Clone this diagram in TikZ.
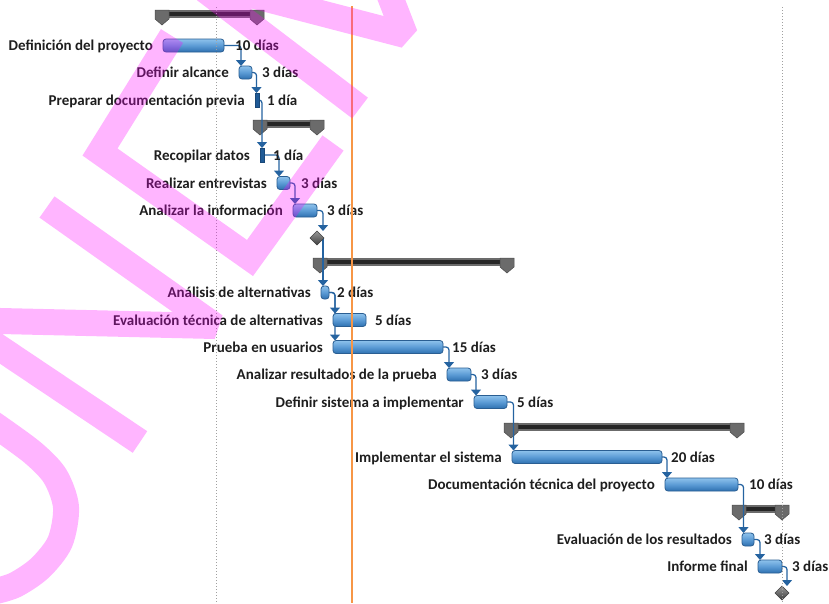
\documentclass[tikz,border=0pt]{standalone}
\usepackage{fontspec}
\setmainfont{Carlito}
\usetikzlibrary{arrows.meta,positioning,shapes.geometric}

\definecolor{barTop}{HTML}{8EC2EC}
\definecolor{barMid}{HTML}{5B9BD5}
\definecolor{barBot}{HTML}{2E70B0}
\definecolor{barEdge}{HTML}{2A5E92}
\definecolor{linkBlue}{HTML}{2563A0}
\definecolor{oneDay}{HTML}{1F5A96}
\definecolor{todayOrange}{HTML}{F79646}
\definecolor{gridGray}{HTML}{A0A0A0}
\definecolor{sumDark}{HTML}{262626}
\definecolor{sumGray}{HTML}{6B6B6B}
\definecolor{stampPink}{HTML}{FF00FF}
\definecolor{labelInk}{HTML}{1E1E1E}

\pgfdeclarelayer{links}
\pgfdeclarelayer{marks}
\pgfsetlayers{links,main,marks}

\tikzset{
  taskbar/.style={draw=barEdge, line width=0.8pt, rounded corners=3pt,
    top color=barTop, bottom color=barBot, middle color=barMid,
    minimum height=13pt, inner sep=0pt, outer sep=0pt},
  shortbar/.style={fill=oneDay, draw=oneDay!80!black, line width=0.4pt,
    minimum width=4pt, minimum height=14pt, inner sep=0pt, outer sep=0pt},
  milestone/.style={diamond, draw=black!75, line width=0.6pt,
    top color=black!40, bottom color=black!75,
    minimum size=14pt, inner sep=0pt, outer sep=0pt},
  lbl/.style={font=\fontsize{15}{17}\selectfont\bfseries, text=labelInk,
    inner sep=0pt, text height=12pt, text depth=2pt},
  link/.style={draw=linkBlue, line width=1.25pt, rounded corners=3pt,
    -{Triangle[width=10pt,length=6pt]}},
  gridline/.style={draw=gridGray, line width=1pt, dash pattern=on 1pt off 2pt},
  stamp/.style={draw=stampPink, draw opacity=0.29, line width=26pt,
    line join=miter, miter limit=2},
}

% summary bar: caps centred at #1 and #2, top edge at #3
\newcommand{\ganttsum}[3]{%
  \fill[sumGray] (#1-7,#3) rectangle (#2+7,#3+8);
  \fill[sumDark] (#1,#3+2) rectangle (#2,#3+6);
  \foreach \c in {#1,#2}{
    \filldraw[fill=sumGray, draw=black!70, line width=0.5pt]
      (\c-7,#3) -- (\c+7,#3) -- (\c+7,#3+9) -- (\c,#3+15) -- (\c-7,#3+9) -- cycle;
  }%
}

\begin{document}
\begin{tikzpicture}[x=1pt,y=-1pt]
\useasboundingbox (0,0) rectangle (829,603);

% task bars and milestones
\node[taskbar, minimum width=61pt]  (t1)  at (193.5,45.5) {};
\node[taskbar, minimum width=13pt]  (t2)  at (245.5,72.5) {};
\node[shortbar]                     (t3)  at (257,100) {};
\node[shortbar]                     (t5)  at (262,155) {};
\node[taskbar, minimum width=13pt]  (t6)  at (283.5,183) {};
\node[taskbar, minimum width=24pt]  (t7)  at (305,210.5) {};
\node[milestone]                    (m8)  at (317,238) {};
\node[taskbar, minimum width=8pt]   (t10) at (325,292.5) {};
\node[taskbar, minimum width=33pt]  (t11) at (349.5,320) {};
\node[taskbar, minimum width=110pt] (t12) at (388,347) {};
\node[taskbar, minimum width=24pt]  (t13) at (459,374.5) {};
\node[taskbar, minimum width=33pt]  (t14) at (490.5,402) {};
\node[taskbar, minimum width=150pt] (t16) at (587,457) {};
\node[taskbar, minimum width=73pt]  (t17) at (701.5,484.5) {};
\node[taskbar, minimum width=12pt]  (t19) at (748,539.5) {};
\node[taskbar, minimum width=24pt]  (t20) at (770,566.5) {};
\node[milestone]                    (m21) at (782,593) {};

\begin{pgfonlayer}{links}
\fill[white] (0,0) rectangle (829,603);
% summary tasks
\ganttsum{162}{257}{10}
\ganttsum{260}{317}{120}
\ganttsum{320}{507}{258}
\ganttsum{511}{737}{423}
\ganttsum{739}{782}{505}
% dependency links
\draw[link] (t1.east) -| ([xshift=2pt]t2.north west);
\draw[link] (t2.east) -| ([xshift=1.5pt]t3.north west);
\draw[link] (t3.east) -| ([xshift=2pt]t5.north west);
\draw[link] (t5.east) -| ([xshift=2pt]t6.north west);
\draw[link] (t6.east) -| ([xshift=2pt]t7.north west);
\draw[link] (t7.east) -| ([xshift=6pt]m8.north);
\draw[link] ([xshift=6pt]m8.center) -- ([xshift=6pt]m8.center |- t10.north);
\draw[link] (t10.east) -| ([xshift=2pt]t11.north west);
\draw[link] (t10.east) -| ([xshift=2pt]t12.north west);
\draw[link] (t12.east) -| ([xshift=2pt]t13.north west);
\draw[link] (t13.east) -| ([xshift=2pt]t14.north west);
\draw[link] (t14.east) -| ([xshift=1.5pt]t16.north west);
\draw[link] (t16.east) -| ([xshift=2pt]t17.north west);
\draw[link] (t17.east) -| ([xshift=1.5pt]t19.north west);
\draw[link] (t19.east) -| ([xshift=2pt]t20.north west);
\draw[link] (t20.east) -| ([xshift=5pt]m21.north);
\end{pgfonlayer}

% task names
\node[lbl, anchor=east] (n1)  at ([xshift=-10pt]t1.west)  {Definición del proyecto};
\node[lbl, anchor=east] (n2)  at ([xshift=-10pt]t2.west)  {Definir alcance};
\node[lbl, anchor=east] (n3)  at ([xshift=-10pt]t3.west)  {Preparar documentación previa};
\node[lbl, anchor=east] (n5)  at ([xshift=-10pt]t5.west)  {Recopilar datos};
\node[lbl, anchor=east] (n6)  at ([xshift=-10pt]t6.west)  {Realizar entrevistas};
\node[lbl, anchor=east] (n7)  at ([xshift=-10pt]t7.west)  {Analizar la información};
\node[lbl, anchor=east] (n10) at ([xshift=-10pt]t10.west) {Análisis de alternativas};
\node[lbl, anchor=east] (n11) at ([xshift=-10pt]t11.west) {Evaluación técnica de alternativas};
\node[lbl, anchor=east] (n12) at ([xshift=-10pt]t12.west) {Prueba en usuarios};
\node[lbl, anchor=east] (n13) at ([xshift=-10pt]t13.west) {Analizar resultados de la prueba};
\node[lbl, anchor=east] (n14) at ([xshift=-10pt]t14.west) {Definir sistema a implementar};
\node[lbl, anchor=east] (n16) at ([xshift=-10pt]t16.west) {Implementar el sistema};
\node[lbl, anchor=east] (n17) at ([xshift=-10pt]t17.west) {Documentación técnica del proyecto};
\node[lbl, anchor=east] (n19) at ([xshift=-10pt]t19.west) {Evaluación de los resultados};
\node[lbl, anchor=east] (n20) at ([xshift=-10pt]t20.west) {Informe final};

% durations
\node[lbl, anchor=west] (d1)  at ([xshift=11pt]t1.east)  {10 días};
\node[lbl, anchor=west] (d2)  at ([xshift=10pt]t2.east)  {3 días};
\node[lbl, anchor=west] (d3)  at ([xshift=8pt]t3.east)   {1 día};
\node[lbl, anchor=west] (d5)  at ([xshift=9pt]t5.east)   {1 día};
\node[lbl, anchor=west] (d6)  at ([xshift=11pt]t6.east)  {3 días};
\node[lbl, anchor=west] (d7)  at ([xshift=10pt]t7.east)  {3 días};
\node[lbl, anchor=west] (d10) at ([xshift=8pt]t10.east)  {2 días};
\node[lbl, anchor=west] (d11) at ([xshift=9pt]t11.east)  {5 días};
\node[lbl, anchor=west] (d12) at ([xshift=9pt]t12.east)  {15 días};
\node[lbl, anchor=west] (d13) at ([xshift=10pt]t13.east) {3 días};
\node[lbl, anchor=west] (d14) at ([xshift=10pt]t14.east) {5 días};
\node[lbl, anchor=west] (d16) at ([xshift=9pt]t16.east)  {20 días};
\node[lbl, anchor=west] (d17) at ([xshift=11pt]t17.east) {10 días};
\node[lbl, anchor=west] (d19) at ([xshift=10pt]t19.east) {3 días};
\node[lbl, anchor=west] (d20) at ([xshift=10pt]t20.east) {3 días};

\begin{pgfonlayer}{marks}
% timescale gridlines and status date
\draw[gridline] (216.5,7) -- (216.5,603);
\draw[gridline] (782,7) -- (782,603);
\draw[todayOrange, line width=1.1pt] (352,6) -- (352,603);
% stamped lettering across the sheet
\begin{scope}
\clip (0,0) rectangle (829,603);
\draw[stamp]
  (232,-10) -- (405,35) -- (386,-14)
  (205,-10) -- (360,108)
  (172,36) -- (100,152) -- (250,258) -- (333,143)
  (47,207) -- (215,326) -- (-42,320) -- (140,442)
  plot[smooth] coordinates {(-8,423) (32,452) (55,476) (66,507) (60,542) (40,568) (15,585) (-8,592)};
\end{scope}
\end{pgfonlayer}
\end{tikzpicture}
\end{document}
